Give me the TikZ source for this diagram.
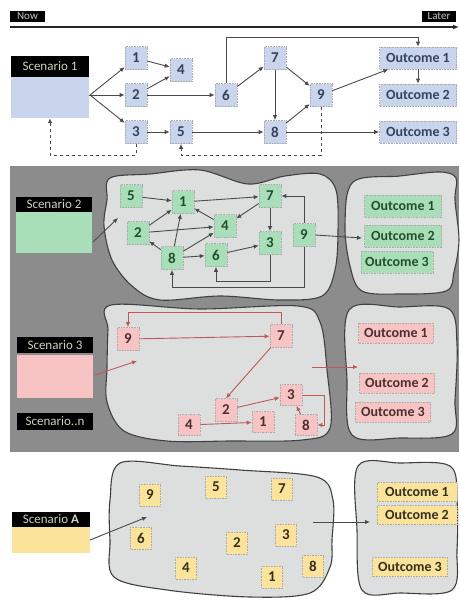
\documentclass[tikz,border=0pt]{standalone}
\usepackage{fontspec}
\setmainfont{Carlito}
\usetikzlibrary{arrows.meta,calc}
\definecolor{labtxt}{HTML}{CCD4B8}
\definecolor{bluefill}{HTML}{C9D5EC}
\definecolor{bluetxt}{HTML}{34435E}
\definecolor{greenfill}{HTML}{A9DFB8}
\definecolor{greentxt}{HTML}{23502C}
\definecolor{redfill}{HTML}{F8C3C3}
\definecolor{redtxt}{HTML}{4A3030}
\definecolor{yelfill}{HTML}{FCE39A}
\definecolor{yeltxt}{HTML}{33301F}
\definecolor{bgdark}{HTML}{8C8C8C}
\definecolor{blobfill}{HTML}{DDDFDF}
\definecolor{edgegray}{HTML}{4A4A4A}
\definecolor{edgered}{HTML}{C45656}
\tikzset{
  lab/.style={fill=black, text=labtxt, font=\fontsize{13}{14}\selectfont, inner sep=0pt, minimum width=77pt, minimum height=16pt},
  numb/.style={draw=gray!65, densely dotted, line width=0.6pt, minimum width=22pt, minimum height=23pt, inner sep=0pt, font=\fontsize{15}{16}\selectfont\bfseries},
  outc/.style={draw=gray!65, densely dotted, line width=0.6pt, minimum width=77pt, minimum height=22pt, inner sep=0pt, font=\fontsize{14}{15}\selectfont\bfseries},
  bnode/.style={numb, fill=bluefill, text=bluetxt},
  gnode/.style={numb, fill=greenfill, text=greentxt},
  rnode/.style={numb, fill=redfill, text=redtxt},
  ynode/.style={numb, fill=yelfill, text=yeltxt, minimum width=21pt, minimum height=22pt},
  bout/.style={outc, fill=bluefill, text=bluetxt},
  gout/.style={outc, fill=greenfill, text=greentxt},
  rout/.style={outc, fill=redfill, text=redtxt, minimum width=75pt, minimum height=20pt},
  yout/.style={outc, fill=yelfill, text=yeltxt, minimum width=80pt, minimum height=19pt},
  blob/.style={draw=black!75, line width=1.1pt, fill=blobfill},
  arr/.style={-{Latex[length=5pt,width=4.5pt]}, line width=0.9pt, draw=edgegray},
  rarr/.style={-{Latex[length=5pt,width=4.5pt]}, line width=0.9pt, draw=edgered},
  darr/.style={arr, dashed},
}
\begin{document}
\begin{tikzpicture}[x=1pt,y=-1pt]
\useasboundingbox (0,0) rectangle (460,603);
\fill[white] (0,0) rectangle (460,603);

% time axis
\node[fill=black, text=black!22, font=\fontsize{11}{12}\selectfont, minimum width=35pt, minimum height=11pt, inner sep=0pt] (now) at (27.5,16) {Now};
\node[fill=black, text=black!22, font=\fontsize{11}{12}\selectfont, minimum width=34pt, minimum height=11pt, inner sep=0pt] (later) at (439,16.5) {Later};
\coordinate (tstart) at (10,27);
\coordinate (tend) at (459,27);
\draw[-{Latex[length=6pt,width=5pt]}, line width=1.4pt, black!85] (tstart) -- (tend);

% ---------- Scenario 1 ----------
\node[lab, minimum width=78pt, minimum height=21pt] (s1lab) at (50,66.5) {Scenario 1};
\node[fill=bluefill, minimum width=78pt, minimum height=41pt, inner sep=0pt] (s1) at (50,97.5) {};
\coordinate (fan) at (90,95);
\node[bnode] (t1) at (136,58) {1};
\node[bnode] (t2) at (136,95) {2};
\node[bnode] (t3) at (136,132) {3};
\node[bnode] (t4) at (181,70) {4};
\node[bnode] (t5) at (181,132) {5};
\node[bnode] (t6) at (226,95) {6};
\node[bnode] (t7) at (275,58) {7};
\node[bnode] (t8) at (275,132) {8};
\node[bnode] (t9) at (321,95) {9};
\node[bout] (to1) at (418,58) {Outcome 1};
\node[bout] (to2) at (418,95) {Outcome 2};
\node[bout] (to3) at (418,132) {Outcome 3};

\draw[line width=0.9pt, edgegray] (s1.east |- fan) -- (fan);
\draw[arr] (fan) -- (t1);
\draw[arr] (fan) -- (t2);
\draw[arr] (fan) -- (t3);
\draw[arr] (t1) -- (t4);
\draw[arr] (t2) -- (t4);
\draw[arr] (t2) -- (t6);
\draw[arr] (t3) -- (t5);
\draw[arr] (t5) -- (t8);
\draw[arr] (t6) -- (t7);
\draw[arr] (t7) -- (t9);
\draw[arr] (t7) -- (t8);
\draw[arr] (t8) -- (t9);
\draw[arr] (t9) -- (to1);
\draw[arr] (to1) -- (to2);
\draw[arr] (t8) -- (to3);
\draw[arr] (t6.north) -- (t6.north |- 0,37) -| (to1.north);
\draw[darr] (t9.south) -- (t9.south |- 0,155) -| (t5.south);
\draw[darr] (t3.south) -- (t3.south |- 0,155) -| (s1.south);

% ---------- dark band ----------
\fill[bgdark] (10,166) rectangle (459,452);

% ---------- Scenario 2 ----------
\node[lab, minimum width=76pt, minimum height=15pt] (s2lab) at (54,204.5) {Scenario 2};
\node[fill=greenfill, minimum width=76pt, minimum height=41pt, inner sep=0pt] (s2) at (54,232.5) {};
\draw[blob] plot[smooth cycle, tension=0.55] coordinates {(110,178) (150,174) (200,170) (248,184) (285,176) (320,174) (336,190) (338,232) (335,270) (322,296) (280,300) (220,296) (160,300) (132,286) (112,260) (104,226) (107,200)};
\draw[blob] plot[smooth cycle, tension=0.55] coordinates {(353,182) (400,176) (440,172) (456,178) (455,200) (459,240) (454,272) (446,291) (400,294) (362,291) (350,266) (345,225)};
\node[gnode] (g5) at (131,196) {5};
\node[gnode] (g1) at (183,202) {1};
\node[gnode] (g7) at (270,196) {7};
\node[gnode] (g2) at (138,233) {2};
\node[gnode] (g4) at (225,226) {4};
\node[gnode] (g9) at (304,235) {9};
\node[gnode] (g3) at (270,243) {3};
\node[gnode] (g8) at (172,258) {8};
\node[gnode] (g6) at (216,255) {6};
\node[gout] (go1) at (403,206) {Outcome 1};
\node[gout] (go2) at (403,236) {Outcome 2};
\node[gout, minimum width=72pt] (go3) at (397,262) {Outcome 3};
\coordinate (g2in) at (118,218);
\coordinate (g2src) at (93,242);
\coordinate (g2out) at (362,238);
\draw[arr] (g2src) -- (g2in);
\draw[arr] (g9.east) -- (g2out);
\draw[arr] (g5) -- (g1);
\draw[arr] (g1) -- (g7);
\draw[arr] (g4) -- (g1);
\draw[arr] (g7) -- (g4);
\draw[arr] (g7) -- (g3);
\draw[arr] (g9.north) |- (g7.east);
\draw[arr] (g2) -- (g1);
\draw[arr] (g2) -- (g4);
\draw[arr] (g8) -- (g2);
\draw[arr] (g8) -- (g1);
\draw[arr] (g8) -- (g4);
\draw[arr] (g8) -- (g6);
\draw[arr] (g6) -- (g3);
\draw[arr] (g3.south) -- (g3.south |- 0,281) -| (g6.south);
\draw[arr] (g9.south) -- (g9.south |- 0,287) -| (g8.south);

% ---------- Scenario 3 ----------
\node[lab, minimum width=76pt, minimum height=16pt] (s3lab) at (55,345) {Scenario 3};
\node[fill=redfill, minimum width=76pt, minimum height=43pt, inner sep=0pt] (s3) at (55,376) {};
\node[lab, minimum width=76pt, minimum height=17pt] (snlab) at (55,421.5) {Scenario..n};
\draw[blob] plot[smooth cycle, tension=0.55] coordinates {(111,305) (200,309) (298,306) (320,322) (327,370) (330,428) (302,440) (230,441) (167,441) (124,431) (107,402) (107,368) (108,330)};
\draw[blob] plot[smooth cycle, tension=0.55] coordinates {(349,310) (400,307) (449,309) (457,345) (455,400) (452,434) (400,438) (352,435) (347,380)};
\node[rnode] (r9) at (128,339) {9};
\node[rnode] (r7) at (281,336) {7};
\node[rnode] (r2) at (226,410) {2};
\node[rnode, minimum height=21pt] (r3) at (291,395) {3};
\node[rnode, minimum height=21pt] (r4) at (189,425) {4};
\node[rnode, minimum height=21pt] (r1) at (263,422) {1};
\node[rnode, minimum height=21pt] (r8) at (306,425) {8};
\node[rout] (ro1) at (396,333) {Outcome 1};
\node[rout] (ro2) at (397,383) {Outcome 2};
\node[rout] (ro3) at (393,412) {Outcome 3};
\coordinate (r3src) at (95,375);
\coordinate (r3in) at (137,361);
\coordinate (r3from) at (312,367);
\coordinate (r3to) at (358,367);
\draw[rarr] (r3src) -- (r3in);
\draw[rarr] (r3from) -- (r3to);
\draw[rarr] (r7.north) -- (r7.north |- 0,312) -| (r9.north);
\draw[rarr] (r9) -- (r7);
\draw[rarr] (r7) -- (r2.north);
\draw[rarr] (r2) -- (r3);
\draw[rarr] (r4) -- (r1);
\draw[rarr] (r3.east) -- ++(22,0) |- (r8.east);
\draw[rarr] (r8) -- (r3);

% ---------- Scenario A ----------
\node[lab, minimum width=78pt, minimum height=15pt] (salab) at (51,519.5) {Scenario \textbf{A}};
\node[fill=yelfill, minimum width=78pt, minimum height=26pt, inner sep=0pt] (sa) at (51,540) {};
\draw[blob] plot[smooth cycle, tension=0.55] coordinates {(120,463) (180,466) (240,470) (317,477) (333,500) (332,540) (330,567) (310,593) (250,597) (167,590) (114,577) (110,540) (110,500)};
\draw[blob] plot[smooth cycle, tension=0.55] coordinates {(358,466) (400,463) (450,466) (457,500) (457,550) (452,590) (400,593) (362,590) (357,530)};
\node[ynode] (y9) at (150,495) {9};
\node[ynode] (y5) at (216,487) {5};
\node[ynode] (y7) at (282,489) {7};
\node[ynode] (y6) at (141,538) {6};
\node[ynode] (y2) at (237,543) {2};
\node[ynode] (y3) at (286,535) {3};
\node[ynode] (y4) at (186,568) {4};
\node[ynode] (y1) at (272,577) {1};
\node[ynode] (y8) at (313,566) {8};
\node[yout] (yo1) at (417,492) {Outcome 1};
\node[yout] (yo2) at (417,515) {Outcome 2};
\node[yout, minimum width=75pt] (yo3) at (410,567) {Outcome 3};
\coordinate (yasrc) at (90,540);
\coordinate (yain) at (147,517);
\coordinate (yafrom) at (313,522);
\coordinate (yato) at (370,522);
\draw[arr] (yasrc) -- (yain);
\draw[arr] (yafrom) -- (yato);
\end{tikzpicture}
\end{document}
